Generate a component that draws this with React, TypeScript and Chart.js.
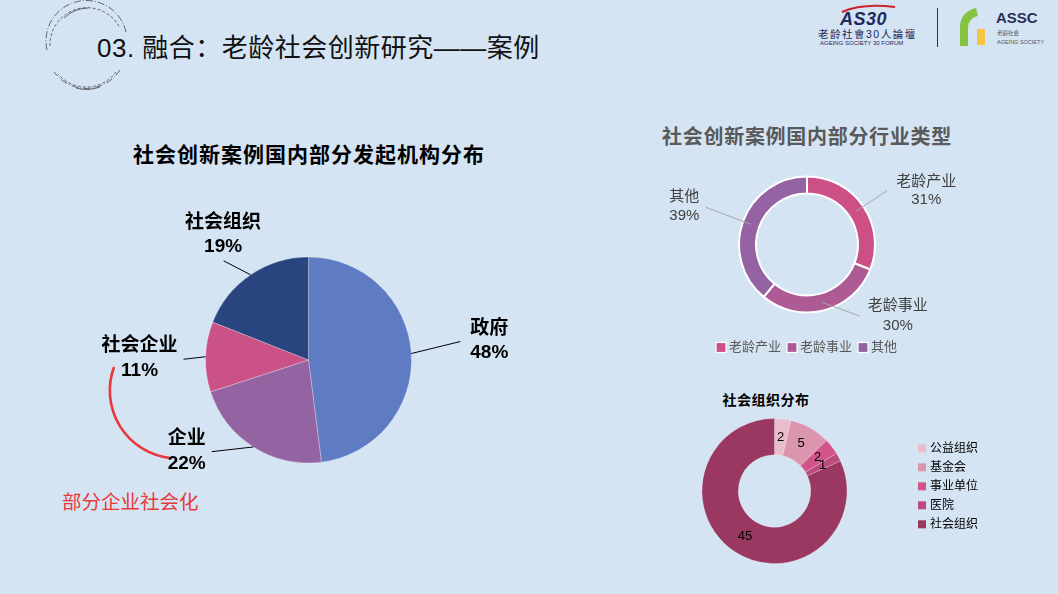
import React, { useEffect, useRef } from 'react';
import { Chart, registerables } from 'chart.js';

Chart.register(...registerables);

// ---------- data ----------
const orgLabels = ['政府', '企业', '社会企业', '社会组织'];
const orgValues = [48, 22, 11, 19];

const industryLabels = ['老龄产业', '老龄事业', '其他'];
const industryValues = [31, 30, 39];

const socialLabels = ['公益组织', '基金会', '事业单位', '医院', '社会组织'];
const socialValues = [2, 5, 2, 1, 45];

// ---------- styles ----------
const orgColors = ['#5e7bc4', '#9464a2', '#cb5286', '#2a447f'];
const industryColors = ['#cc5086', '#ae5a94', '#9563a3'];
const socialColors = ['#e9bdcc', '#dc95ae', '#d2558a', '#bb4b7d', '#9a3861'];

const W = 1058;
const H = 594;
const BG = 'rgb(213,228,243)';
const FONT = "'Liberation Sans', Arial, 'Noto Sans CJK SC', sans-serif";

// label layout offsets (relative to slice anchor point)
const orgLabelLayout = [
  { lx: 49, ly: -12, tx: 78, ty1: -25, ty2: -1 },
  { lx: -41.6, ly: 4.7, tx: -66.6, ty1: -8, ty2: 17 },
  { lx: -22, ly: 2.5, tx: -66, ty1: -11, ty2: 14 },
  { lx: -27, ly: -14, tx: -27.5, ty1: -52, ty2: -28 },
];
const industryLabelLayout = [
  { lx: 31, ly: -20.5, tx: 70, ty1: -29, ty2: -11 },
  { lx: 38, ly: 14, tx: 76, ty1: 4, ty2: 24 },
  { lx: -45, ly: -17, tx: -66.7, ty1: -27, ty2: -8 },
];

function padFor(cx: number, cy: number, r: number) {
  return { left: cx - r, right: W - cx - r, top: cy - r, bottom: H - cy - r };
}

function pct(values: number[], i: number) {
  const total = values.reduce((a, b) => a + b, 0);
  return Math.round((values[i] / total) * 100) + '%';
}

const orgLabelPlugin = {
  id: 'orgLabels',
  afterDraw(chart: any) {
    const ctx = chart.ctx;
    const meta = chart.getDatasetMeta(0);
    ctx.save();
    meta.data.forEach((arc: any, i: number) => {
      const p = arc.getProps(['x', 'y', 'startAngle', 'endAngle', 'outerRadius'], true);
      const mid = (p.startAngle + p.endAngle) / 2;
      const ex = p.x + Math.cos(mid) * p.outerRadius;
      const ey = p.y + Math.sin(mid) * p.outerRadius;
      const L = orgLabelLayout[i];
      ctx.strokeStyle = '#000';
      ctx.lineWidth = 1;
      ctx.beginPath();
      ctx.moveTo(ex, ey);
      ctx.lineTo(ex + L.lx, ey + L.ly);
      ctx.stroke();
      ctx.fillStyle = '#000';
      ctx.font = `bold 19px ${FONT}`;
      ctx.textAlign = 'center';
      ctx.textBaseline = 'middle';
      ctx.fillText(chart.data.labels[i], ex + L.tx, ey + L.ty1);
      ctx.fillText(pct(chart.data.datasets[0].data, i), ex + L.tx, ey + L.ty2);
    });
    ctx.restore();
  },
};

const industryLabelPlugin = {
  id: 'industryLabels',
  afterDraw(chart: any) {
    const ctx = chart.ctx;
    const meta = chart.getDatasetMeta(0);
    const ds = chart.data.datasets[0];
    ctx.save();
    meta.data.forEach((arc: any, i: number) => {
      const c = arc.getCenterPoint(true);
      const L = industryLabelLayout[i];
      ctx.strokeStyle = '#a6a6a6';
      ctx.lineWidth = 1;
      ctx.beginPath();
      ctx.moveTo(c.x, c.y);
      ctx.lineTo(c.x + L.lx, c.y + L.ly);
      ctx.stroke();
      ctx.fillStyle = '#404040';
      ctx.font = `15px ${FONT}`;
      ctx.textAlign = 'center';
      ctx.textBaseline = 'middle';
      ctx.fillText(chart.data.labels[i], c.x + L.tx, c.y + L.ty1);
      ctx.fillText(pct(ds.data, i), c.x + L.tx, c.y + L.ty2);
    });
    // legend
    let x = 716;
    const y = 347.5;
    ctx.font = `13px ${FONT}`;
    ctx.textAlign = 'left';
    ctx.textBaseline = 'middle';
    chart.data.labels.forEach((lab: string, i: number) => {
      ctx.fillStyle = ds.backgroundColor[i];
      ctx.fillRect(x, y - 5, 10, 10);
      ctx.strokeStyle = '#fff';
      ctx.lineWidth = 1.2;
      ctx.strokeRect(x, y - 5, 10, 10);
      ctx.fillStyle = '#595959';
      ctx.fillText(lab, x + 13, y);
      x += 13 + ctx.measureText(lab).width + 6;
    });
    ctx.restore();
  },
};

const socialLabelPlugin = {
  id: 'socialLabels',
  afterDraw(chart: any) {
    const ctx = chart.ctx;
    const meta = chart.getDatasetMeta(0);
    const ds = chart.data.datasets[0];
    ctx.save();
    ctx.font = `13px ${FONT}`;
    ctx.fillStyle = '#000';
    ctx.textAlign = 'center';
    ctx.textBaseline = 'middle';
    meta.data.forEach((arc: any, i: number) => {
      const c = arc.getCenterPoint(true);
      ctx.fillText(String(ds.data[i]), c.x, c.y);
    });
    // legend
    ctx.font = `12px ${FONT}`;
    ctx.textAlign = 'left';
    chart.data.labels.forEach((lab: string, i: number) => {
      const y = 448.3 + i * 19;
      ctx.fillStyle = ds.backgroundColor[i];
      ctx.fillRect(918, y - 4, 8, 8);
      ctx.fillStyle = '#000';
      ctx.fillText(lab, 930, y);
    });
    ctx.restore();
  },
};

const baseOptions = {
  responsive: false,
  animation: false as const,
  events: [] as any[],
  plugins: { legend: { display: false }, tooltip: { enabled: false }, title: { display: false } },
};

export default function App() {
  const c1 = useRef<HTMLCanvasElement>(null);
  const c2 = useRef<HTMLCanvasElement>(null);
  const c3 = useRef<HTMLCanvasElement>(null);

  useEffect(() => {
    const ch1 = new Chart(c1.current as HTMLCanvasElement, {
      type: 'pie',
      data: {
        labels: orgLabels,
        datasets: [
          {
            data: orgValues,
            backgroundColor: orgColors,
            borderColor: 'rgba(255,255,255,0.45)',
            borderWidth: 0.6,
          },
        ],
      },
      options: {
        ...baseOptions,
        radius: 103,
        layout: { padding: padFor(308.5, 360, 103) },
      } as any,
      plugins: [orgLabelPlugin],
    });
    const ch2 = new Chart(c2.current as HTMLCanvasElement, {
      type: 'doughnut',
      data: {
        labels: industryLabels,
        datasets: [
          {
            data: industryValues,
            backgroundColor: industryColors,
            borderColor: '#ffffff',
            borderWidth: 2,
          },
        ],
      },
      options: {
        ...baseOptions,
        radius: 68,
        cutout: '75%',
        layout: { padding: padFor(807, 244.5, 69) },
      } as any,
      plugins: [industryLabelPlugin],
    });
    const ch3 = new Chart(c3.current as HTMLCanvasElement, {
      type: 'doughnut',
      data: {
        labels: socialLabels,
        datasets: [
          {
            data: socialValues,
            backgroundColor: socialColors,
            borderColor: 'rgba(255,255,255,0.35)',
            borderWidth: 0.6,
          },
        ],
      },
      options: {
        ...baseOptions,
        radius: 72.5,
        cutout: '50%',
        layout: { padding: padFor(774.5, 491, 72.5) },
      } as any,
      plugins: [socialLabelPlugin],
    });
    return () => {
      ch1.destroy();
      ch2.destroy();
      ch3.destroy();
    };
  }, []);

  const canvasStyle: React.CSSProperties = { position: 'absolute', left: 0, top: 0, width: W, height: H };

  return (
    <div
      style={{
        position: 'fixed',
        left: 0,
        top: 0,
        width: W,
        height: H,
        background: BG,
        overflow: 'hidden',
        fontFamily: FONT,
      }}
    >
      {/* decorations */}
      <svg width={W} height={H} style={{ position: 'absolute', left: 0, top: 0 }}>
        <g fill="none" stroke="#555" strokeWidth={0.9}>
          <path d="M 47 50 A 40 40 0 0 1 126 32" strokeDasharray="7 2 1 2" />
          <path d="M 50 46 A 37 37 0 0 1 120 28" strokeDasharray="3 2" />
          <path d="M 64 18 A 36 36 0 0 1 88 8" />
          <path d="M 120 70 A 40 40 0 0 1 54 72" strokeDasharray="7 2 1 2" />
          <path d="M 116 72 A 37 37 0 0 1 58 74" strokeDasharray="3 2" />
          <path d="M 100 87 A 40 40 0 0 1 76 88" />
        </g>
        {/* red arc */}
        <path
          d="M 114 367 A 68 68 0 0 0 170 458"
          fill="none"
          stroke="#e8393b"
          strokeWidth={2.6}
        />
        {/* AS30 swoosh */}
        <path d="M 842 12 Q 862 3 895 7" fill="none" stroke="#c8252c" strokeWidth={2.2} />
        {/* divider */}
        <line x1={937.5} y1={8} x2={937.5} y2={47} stroke="#333" strokeWidth={1} />
        {/* ASSC mark */}
        <path d="M 964 46 L 964 28 Q 964 15 977 12" fill="none" stroke="#86c341" strokeWidth={8} />
        <rect x={977} y={29} width={8} height={16} fill="#f5c445" />
      </svg>

      <div
        style={{
          position: 'absolute',
          left: 97,
          top: 32,
          fontSize: 26,
          lineHeight: '32px',
          letterSpacing: 0.5,
          color: '#111',
          whiteSpace: 'nowrap',
        }}
      >
        03. 融合：老龄社会创新研究——案例
      </div>

      {/* logos text */}
      <div
        style={{
          position: 'absolute',
          left: 840,
          top: 9,
          fontSize: 18,
          lineHeight: '20px',
          fontWeight: 'bold',
          fontStyle: 'italic',
          color: '#1f2a5c',
          letterSpacing: 0.5,
        }}
      >
        AS30
      </div>
      <div
        style={{
          position: 'absolute',
          left: 818,
          top: 28,
          fontSize: 10.5,
          lineHeight: '12px',
          color: '#1f2a5c',
          letterSpacing: 1.5,
          whiteSpace: 'nowrap',
        }}
      >
        老龄社會30人論壇
      </div>
      <div
        style={{
          position: 'absolute',
          left: 820,
          top: 40,
          fontSize: 6,
          lineHeight: '7px',
          color: '#1f2a5c',
          whiteSpace: 'nowrap',
        }}
      >
        AGEING SOCIETY 30 FORUM
      </div>
      <div
        style={{
          position: 'absolute',
          left: 996,
          top: 9,
          fontSize: 15,
          lineHeight: '17px',
          fontWeight: 'bold',
          color: '#2a2f5a',
        }}
      >
        ASSC
      </div>
      <div
        style={{
          position: 'absolute',
          left: 997,
          top: 29,
          fontSize: 5.5,
          lineHeight: '9px',
          color: '#555',
          whiteSpace: 'nowrap',
        }}
      >
        老龄社会
        <br />
        AGEING SOCIETY
      </div>

      {/* chart titles */}
      <div
        style={{
          position: 'absolute',
          left: 9,
          width: 600,
          top: 140,
          textAlign: 'center',
          fontSize: 21,
          lineHeight: '30px',
          fontWeight: 'bold',
          letterSpacing: 1,
          color: '#000',
        }}
      >
        社会创新案例国内部分发起机构分布
      </div>
      <div
        style={{
          position: 'absolute',
          left: 507,
          width: 600,
          top: 122,
          textAlign: 'center',
          fontSize: 20,
          lineHeight: '30px',
          fontWeight: 'bold',
          letterSpacing: 0.7,
          color: '#595959',
        }}
      >
        社会创新案例国内部分行业类型
      </div>
      <div
        style={{
          position: 'absolute',
          left: 666,
          width: 200,
          top: 390,
          textAlign: 'center',
          fontSize: 14,
          lineHeight: '20px',
          fontWeight: 'bold',
          letterSpacing: 0.5,
          color: '#000',
        }}
      >
        社会组织分布
      </div>
      <div
        style={{
          position: 'absolute',
          left: 62,
          top: 488,
          fontSize: 19.5,
          lineHeight: '28px',
          color: '#e8393b',
          whiteSpace: 'nowrap',
        }}
      >
        部分企业社会化
      </div>

      <canvas ref={c1} width={W} height={H} style={canvasStyle} />
      <canvas ref={c2} width={W} height={H} style={canvasStyle} />
      <canvas ref={c3} width={W} height={H} style={canvasStyle} />
    </div>
  );
}
